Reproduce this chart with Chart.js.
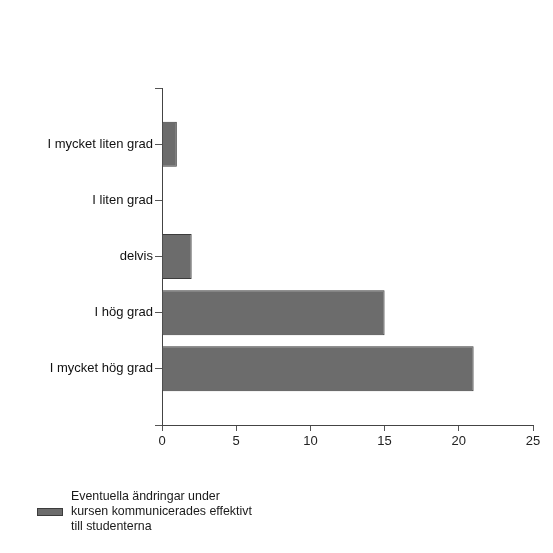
<!DOCTYPE html>
<html>
<head>
<meta charset="utf-8">
<script src="https://cdn.jsdelivr.net/npm/chart.js@4"></script>
<style>
    body { margin: 0; background: #fff; }
    #wrap { position: relative; width: 553px; height: 553px; }
    #legend {
        position: absolute; left: 37px; top: 489px;
        font: 12.4px "Liberation Sans", Arial, sans-serif; color: #1a1a1a;
        display: flex; align-items: center;
    }
    #legendBox {
        width: 24px; height: 6px; background: #6c6c6c; border: 1px solid #3c3c3c;
        margin-right: 8px;
    }
    #legendText { line-height: 15px; }
</style>
</head>
<body>
<div id="wrap">
    <canvas id="chart" width="553" height="553"></canvas>
    <div id="legend"><div id="legendBox"></div><div id="legendText"></div></div>
</div>
<script>
// empty slots at both ends give the half-band space above and below the bars
const categories = ['', 'I mycket liten grad', 'I liten grad', 'delvis', 'I hög grad', 'I mycket hög grad', ''];
const values = [null, 1, 0, 2, 15, 21, null];
const xTicks = [0, 5, 10, 15, 20, 25];
const seriesName = 'Eventuella ändringar under kursen kommunicerades effektivt till studenterna';
const legendLines = ['Eventuella ändringar under', 'kursen kommunicerades effektivt', 'till studenterna'];

document.getElementById('legendText').innerHTML = legendLines.join('<br>');

const ctx = document.getElementById('chart').getContext('2d');
new Chart(ctx, {
    type: 'bar',
    data: {
        labels: categories,
        datasets: [{
            label: seriesName,
            data: values,
            backgroundColor: '#6c6c6c',
            borderColor: '#3c3c3c',
            borderWidth: 1,
            barPercentage: 0.8,
            categoryPercentage: 1
        }]
    },
    options: {
        indexAxis: 'y',
        responsive: false,
        animation: false,
        layout: { padding: { top: 88, right: 20, left: 0, bottom: 0 } },
        plugins: {
            legend: { display: false },
            tooltip: { enabled: false }
        },
        scales: {
            y: {
                offset: false,
                grid: { offset: false, drawOnChartArea: false, tickLength: 7, color: '#555' },
                border: { color: '#444', width: 1 },
                ticks: {
                    color: '#111',
                    padding: 2,
                    font: { family: '"Liberation Sans", Arial, sans-serif', size: 13 }
                },
                afterFit: scale => { scale.width = 162; }
            },
            x: {
                min: 0,
                max: 25,
                afterBuildTicks: scale => { scale.ticks = xTicks.map(v => ({ value: v })); },
                grid: { drawOnChartArea: false, tickLength: 6, color: '#555' },
                border: { color: '#444', width: 1 },
                ticks: {
                    color: '#222',
                    padding: 3,
                    font: { family: '"Liberation Sans", Arial, sans-serif', size: 13 }
                },
                afterFit: scale => { scale.height = 128; }
            }
        }
    }
});
</script>
</body>
</html>
